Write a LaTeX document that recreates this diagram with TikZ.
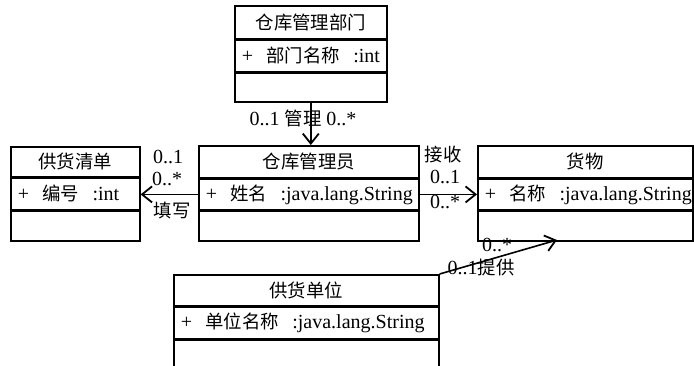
\documentclass[tikz,border=0pt]{standalone}
\usepackage{fontspec}
\setmainfont{Liberation Serif}
\newfontfamily\cjk[Scale=0.92]{Noto Sans CJK SC}
\usetikzlibrary{arrows.meta}
\begin{document}
\begin{tikzpicture}[x=1pt,y=-1pt,
  font=\fontsize{20}{22}\selectfont,
  cell/.style={draw, line width=1.6pt, inner ysep=0pt, anchor=north west},
  hdcell/.style={cell, align=center, inner xsep=0pt},
  attrcell/.style={cell, align=left, inner xsep=7pt},
  lbl/.style={inner sep=0pt},
  conn/.style={line width=1.6pt, -{Straight Barb[length=10pt,width=16pt,line width=1.8pt]}}]
\useasboundingbox (0,0) rectangle (694,365);

% 仓库管理部门
\node[hdcell, text width=152pt, minimum height=33pt] (dh) at (234,5) {\cjk 仓库管理部门};
\node[attrcell, text width=138pt, minimum height=31pt] (da) at (dh.south west) {+~~{\cjk 部门名称}~~:int};
\node[hdcell, text width=152pt, minimum height=29pt] (do) at (da.south west) {};

% 供货清单
\node[hdcell, text width=129pt, minimum height=30pt] (qh) at (10,146) {\cjk 供货清单};
\node[attrcell, text width=115pt, minimum height=31pt] (qa) at (qh.south west) {+~~{\cjk 编号}~~:int};
\node[hdcell, text width=129pt, minimum height=30pt] (qo) at (qa.south west) {};

% 仓库管理员
\node[hdcell, text width=220pt, minimum height=32pt] (mh) at (198,145) {\cjk 仓库管理员};
\node[attrcell, text width=206pt, minimum height=30pt] (ma) at (mh.south west) {+~~{\cjk 姓名}~~:java.lang.String};
\node[hdcell, text width=220pt, minimum height=30pt] (mo) at (ma.south west) {};

% 货物
\node[hdcell, text width=215pt, minimum height=32pt] (gh) at (477,145) {\cjk 货物};
\node[attrcell, text width=201pt, minimum height=30pt] (ga) at (gh.south west) {+~~{\cjk 名称}~~:java.lang.String};
\node[hdcell, text width=215pt, minimum height=30pt] (go) at (ga.south west) {};

% 供货单位
\node[hdcell, text width=265pt, minimum height=31pt] (sh) at (173,274) {\cjk 供货单位};
\node[attrcell, text width=251pt, minimum height=31pt] (sa) at (sh.south west) {+~~{\cjk 单位名称}~~:java.lang.String};
\node[hdcell, text width=265pt, minimum height=32pt] (so) at (sa.south west) {};

% connectors
\draw[conn] (do.south) -- (do.south |- mh.north);
\draw[conn] (ma.west) -- (ma.west -| qa.east);
\draw[conn] (ma.east) -- (ma.east -| ga.west);
\coordinate (tipg) at (557,240);
\draw[conn] (sh.north east) -- (tipg);

% labels
\node[lbl] (l1) at (303,118) {0..1 {\cjk 管理} 0..*};
\node[lbl] (l2) at (168,157) {0..1};
\node[lbl] (l3) at (167,179) {0..*};
\node[lbl] (l4) at (172,211) {\cjk 填写};
\node[lbl] (l5) at (443,155) {\cjk 接收};
\node[lbl] (l6) at (445,177) {0..1};
\node[lbl] (l7) at (445,202) {0..*};
\node[lbl] (l8) at (497,245) {0..*};
\node[lbl] (l9) at (481,268) {0..1{\cjk 提供}};
\end{tikzpicture}
\end{document}
